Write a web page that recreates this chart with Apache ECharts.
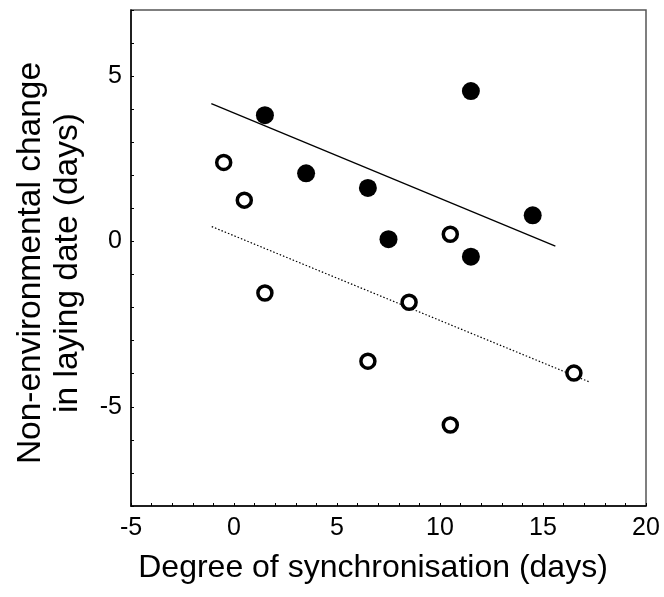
<!DOCTYPE html>
<html>
<head>
<meta charset="utf-8">
<script src="https://cdn.jsdelivr.net/npm/echarts@6/dist/echarts.min.js"></script>
<style>html,body{margin:0;padding:0;background:#fff;}#c{width:664px;height:597px;}</style>
</head>
<body>
<div id="c"></div>
<script>
// Filled circles: [degree of synchronisation, non-environmental change]
const filledPoints = [[1.5, 3.82], [3.5, 2.06], [6.5, 1.62], [7.5, 0.07], [11.5, 4.55], [11.5, -0.46], [14.5, 0.79]];
// Open circles
const openPoints = [[-0.5, 2.39], [0.5, 1.25], [1.5, -1.56], [6.5, -3.62], [8.5, -1.84], [10.5, 0.22], [10.5, -5.55], [16.5, -3.98]];
// Regression lines (end points)
const solidLine = [[-1.1, 4.17], [15.6, -0.14]];
const dottedLine = [[-1.08, 0.45], [17.3, -4.26]];
const xTickLabels = [-5, 0, 5, 10, 15, 20];
const yTickLabels = [-5, 0, 5];

const font = '"Liberation Sans", Arial, sans-serif';
const chart = echarts.init(document.getElementById('c'));
chart.setOption({
  animation: false,
  grid: {left: 131, right: 18, top: 10, bottom: 91, show: true, borderColor: '#555', borderWidth: 1.5, backgroundColor: 'transparent'},
  xAxis: {
    type: 'value', min: -5, max: 20, interval: 1,
    name: 'Degree of synchronisation (days)', nameLocation: 'middle', nameGap: 46,
    nameTextStyle: {fontFamily: font, fontSize: 32, color: '#000', padding: [0, 31, 0, 0]},
    axisLine: {show: true, onZero: false, lineStyle: {color: '#000', width: 1.5}},
    axisTick: {show: true, inside: true, length: 3, lineStyle: {color: '#000', width: 1}},
    axisLabel: {fontFamily: font, fontSize: 25, color: '#000', margin: 10,
      formatter: v => xTickLabels.includes(v) ? String(v) : ''},
    splitLine: {show: false}
  },
  yAxis: {
    type: 'value', min: -8, max: 7, interval: 1,
    name: 'Non-environmental change\nin laying date (days)', nameLocation: 'middle', nameGap: 45,
    nameTextStyle: {fontFamily: font, fontSize: 33.5, color: '#000', lineHeight: 37, padding: [0, 10, 0, 0]},
    axisLine: {show: true, onZero: false, lineStyle: {color: '#000', width: 1.5}},
    axisTick: {show: true, inside: true, length: 3, lineStyle: {color: '#000', width: 1}},
    axisLabel: {fontFamily: font, fontSize: 25, color: '#000', margin: 9,
      formatter: v => yTickLabels.includes(v) ? String(v) : ''},
    splitLine: {show: false}
  },
  series: [
    {type: 'line', data: solidLine, symbol: 'none', lineStyle: {color: '#000', width: 1.3}, z: 2},
    {type: 'line', data: dottedLine, symbol: 'none', lineStyle: {color: '#000', width: 1.2, type: [1.5, 2]}, z: 2},
    {type: 'scatter', data: filledPoints, symbol: 'circle', symbolSize: 18, itemStyle: {color: '#000', opacity: 1}, z: 3},
    {type: 'scatter', data: openPoints, symbol: 'circle', symbolSize: 14, itemStyle: {color: '#fff', borderColor: '#000', borderWidth: 3.5, opacity: 1}, z: 3}
  ]
});
</script>
</body>
</html>
